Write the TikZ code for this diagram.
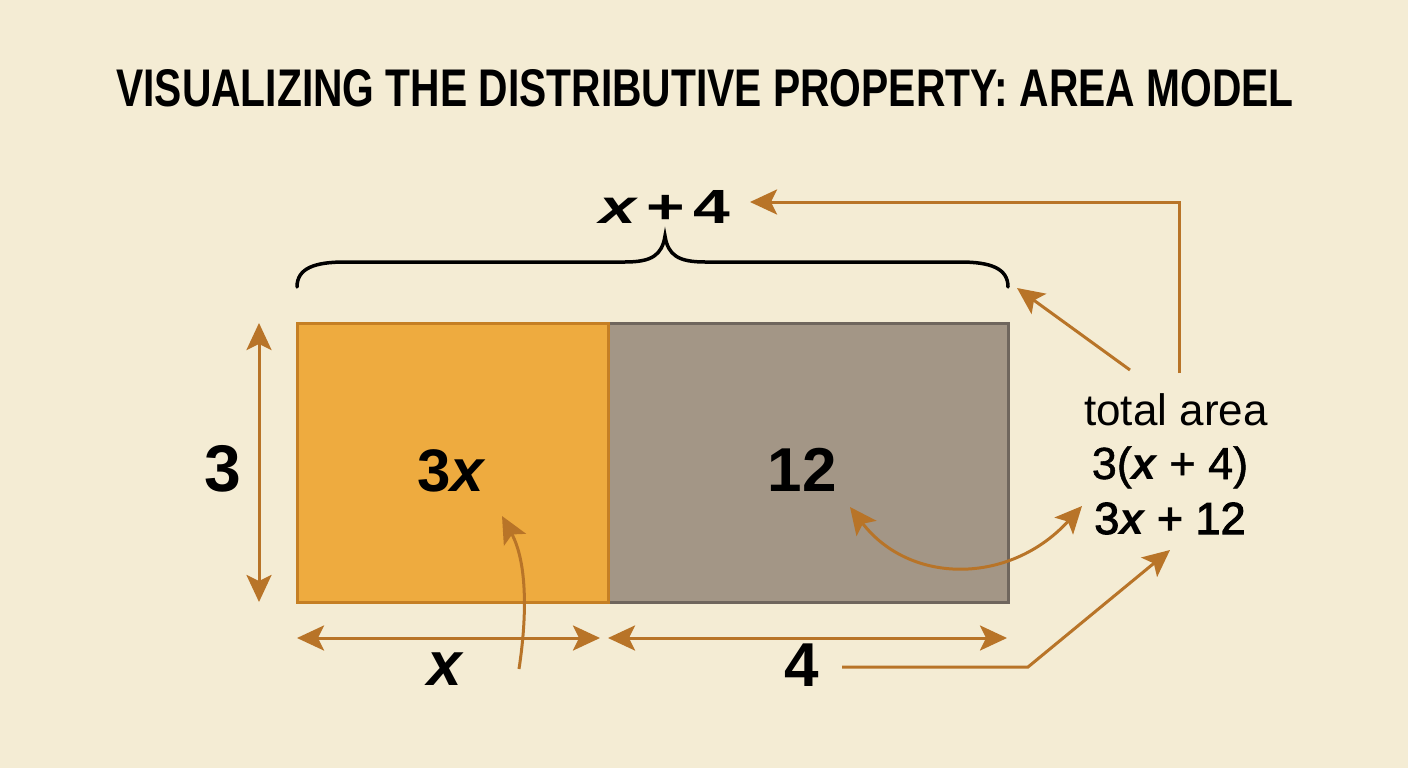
\documentclass[tikz,border=0pt]{standalone}
\usepackage{fontspec}
\setmainfont{Liberation Sans}
\newfontfamily\medfont[FakeBold=1.2]{Liberation Sans}
\newfontfamily\semifont[FakeBold=2.4]{Liberation Sans}
\usepackage{graphicx}
\usetikzlibrary{arrows.meta}
\definecolor{bg}{HTML}{F4ECD4}
\definecolor{orfill}{HTML}{EEAB3F}
\definecolor{ordraw}{HTML}{C57F24}
\definecolor{grfill}{HTML}{A39686}
\definecolor{grdraw}{HTML}{6F665D}
\definecolor{arrowc}{HTML}{B87428}
\newcommand{\fs}[1]{\fontsize{#1}{#1}\selectfont}
\newcommand{\bx}{{\rmfamily\bfseries\itshape x}}
\begin{document}
\begin{tikzpicture}[x=1pt,y=-1pt,
  tip/.style={-{Stealth[length=27pt,width=25pt,inset=6pt]}},
  dtip/.style={{Stealth[length=27pt,width=25pt,inset=6pt]}-{Stealth[length=27pt,width=25pt,inset=6pt]}},
  conn/.style={draw=arrowc,line width=3pt},
  lbl/.style={inner sep=0pt,font=\bfseries},
  box/.style={line width=3pt}]
\fill[bg] (0,0) rectangle (1408,768);
\useasboundingbox (0,0) rectangle (1408,768);
% title
\node[inner sep=0pt] (title) at (705,88) {\resizebox{1177pt}{37pt}{\bfseries VISUALIZING THE DISTRIBUTIVE PROPERTY: AREA MODEL}};
% rectangles
\draw[box,fill=grfill,draw=grdraw] (608,323) rectangle (1008,602);
\draw[box,fill=orfill,draw=ordraw] (297,323) rectangle (608,602);
% brace
\draw[line width=3.5pt,line cap=round] (297,287) .. controls (297,268) and (315,262) .. (345,262) -- (625,262) .. controls (652,262) and (662,255) .. (665,236) .. controls (668,255) and (678,262) .. (705,262) -- (960,262) .. controls (990,262) and (1008,268) .. (1008,287);
% labels
\node[inner sep=0pt] (xp4) at (665,207) {\resizebox{130pt}{33pt}{\bfseries\textit{x}\hspace{0.12em}+\hspace{0.12em}4}};
\node[lbl] (three) at (223,469) {\fs{66}3};
\node[lbl] (threex) at (452,471) {\fs{60}3\textit{x}};
\node[lbl] (twelve) at (802,470) {\fs{62}12};
\node[lbl] (xlab) at (446,669) {\fs{62}\textit{x}};
\node[lbl] (four) at (802,665) {\fs{62}4};
\node[inner sep=0pt,anchor=base] (tot1) at (1176,425) {\fs{44}total area};
\node[inner sep=0pt,anchor=base] (tot2) at (1170,479) {\fs{45}\medfont 3(\bx{} + 4)};
\node[inner sep=0pt,anchor=base] (tot3) at (1170,534) {\fs{45}\semifont 3\bx{} + 12};
% coordinates for connectors
\coordinate (vtop) at (259,323);
\coordinate (vbot) at (259,602);
\coordinate (hxl) at (297,638);
\coordinate (hxr) at (600,638);
\coordinate (h4l) at (608,638);
\coordinate (h4r) at (1007,638);
\coordinate (cxs) at (519,669);
\coordinate (cxe) at (502,516);
\coordinate (c12) at (850,507);
\coordinate (ctot) at (1082,506);
\coordinate (e4s) at (842,667);
\coordinate (e4m) at (1028,667);
\coordinate (e4e) at (1170,550);
\coordinate (dgs) at (1130,370);
\coordinate (dge) at (1017,288);
\coordinate (tps) at (1179,373);
\coordinate (tpe) at (750,202);
% connectors
\draw[conn,dtip] (vtop) -- (vbot);
\draw[conn,dtip] (hxl) -- (hxr);
\draw[conn,dtip] (h4l) -- (h4r);
\draw[conn,tip] (cxs) .. controls (528,610) and (526,560) .. (cxe);
\draw[conn,dtip] (c12) .. controls (910,585) and (1010,585) .. (ctot);
\draw[conn,tip] (e4s) -- (e4m) -- (e4e);
\draw[conn,tip] (dgs) -- (dge);
\draw[conn,tip] (tps) |- (tpe);
\end{tikzpicture}
\end{document}
